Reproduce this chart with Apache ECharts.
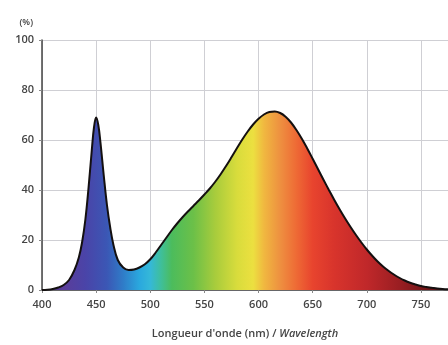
<!DOCTYPE html>
<html>
<head>
<meta charset="utf-8">
<script src="https://cdn.jsdelivr.net/npm/echarts@6/dist/echarts.min.js"></script>
<style>
  html, body { margin: 0; padding: 0; background: #fff; }
  #spd { width: 448px; height: 345px; }
</style>
</head>
<body>
<div id="spd"></div>
<script>
// spectre relatif (%)
var wavelength = [400, 405, 410, 415, 420, 425, 430, 434, 437, 440, 443, 446, 448, 450, 452, 454, 457, 460, 463, 466, 470, 475, 480, 485, 490, 495, 500, 505, 510, 515, 520, 525, 530, 535, 540, 545, 550, 555, 560, 565, 570, 575, 580, 585, 590, 595, 600, 605, 610, 615, 620, 625, 630, 635, 640, 645, 650, 655, 660, 665, 670, 675, 680, 685, 690, 695, 700, 705, 710, 715, 720, 725, 730, 735, 740, 745, 750, 755, 760, 765, 770, 775]
var intensity = [0, 0.1, 0.4, 1, 2, 4, 8, 13, 19, 28, 41, 56, 65, 69, 66, 59, 46, 34, 25, 18, 12, 9, 8, 8.2, 9, 10.3, 12.3, 15, 18, 21, 24, 26.7, 29.2, 31.5, 33.7, 35.9, 38.2, 40.6, 43.3, 46.3, 49.6, 53.1, 56.7, 60.2, 63.4, 66.2, 68.5, 70.2, 71.2, 71.4, 70.8, 69.3, 67, 64, 60.5, 56.6, 52.5, 48.3, 44.1, 40, 36, 32.2, 28.6, 25.2, 22, 19, 16.2, 13.7, 11.4, 9.4, 7.7, 6.2, 4.9, 3.8, 2.9, 2.2, 1.6, 1.2, 0.9, 0.6, 0.4, 0.3]
var xTicks = [400, 450, 500, 550, 600, 650, 700, 750]
var yTicks = [0, 20, 40, 60, 80, 100]

// couleurs du spectre visible
var spectrumNm = [400, 420, 440, 460, 475, 490, 500, 510, 520, 540, 560, 580, 595, 605, 620, 635, 650, 670, 700, 730, 760, 775]
var spectrumColor = ['#3a2a70', '#5a3d9a', '#4a44a8', '#3b57b5', '#2f7cc8', '#2aa8de', '#35b8d8', '#3fbf9a', '#4cbc5c', '#6cc048', '#a8cc3c', '#d8dc3c', '#ece040', '#f0b840', '#ee9040', '#ee6a35', '#e8442e', '#d8342c', '#c0282a', '#9a1e22', '#6a1416', '#4a1010']

var xMin = 400, xMax = 775

var stops = spectrumNm.map(function (nm, i) {
    return { offset: (nm - xMin) / (xMax - xMin), color: spectrumColor[i] }
})

var data = wavelength.map(function (w, i) { return [w, intensity[i]] })

var mychart = echarts.init(document.getElementById('spd'))
mychart.setOption({
    animation: false,
    grid: { left: 42, right: 0, top: 40, bottom: 55 },
    xAxis: {
        type: 'value',
        min: xMin,
        max: xMax,
        interval: 50,
        name: '{a|Longueur d\'onde (nm) / }{b|Wavelength}',
        nameLocation: 'middle',
        nameGap: 38,
        nameTextStyle: {
            rich: {
                a: { fontFamily: 'Open Sans', fontSize: 11, fontWeight: 600, color: '#444' },
                b: { fontFamily: 'Open Sans', fontSize: 11, fontStyle: 'italic', fontWeight: 600, color: '#444' }
            }
        },
        axisLine: { show: true, lineStyle: { color: '#444', width: 1.5 } },
        axisTick: { show: true, length: 3, lineStyle: { color: '#888' } },
        axisLabel: {
            showMaxLabel: false,
            margin: 9,
            fontFamily: 'Open Sans',
            fontSize: 11,
            fontWeight: 600,
            color: '#444',
            formatter: function (v) { return xTicks.indexOf(v) >= 0 ? String(v) : '' }
        },
        splitLine: { show: true, lineStyle: { color: '#cfcfd4', width: 1 } }
    },
    yAxis: {
        type: 'value',
        min: 0,
        max: 100,
        interval: 20,
        name: '(%)',
        nameLocation: 'end',
        nameGap: 13,
        nameTextStyle: { fontFamily: 'Open Sans', fontSize: 9, fontWeight: 600, color: '#444', align: 'right', padding: [0, 9, 0, 0] },
        axisLine: { show: true, lineStyle: { color: '#444', width: 1.5 } },
        axisTick: { show: true, length: 3, lineStyle: { color: '#888' } },
        axisLabel: {
            margin: 8,
            fontFamily: 'Open Sans',
            fontSize: 11,
            fontWeight: 600,
            color: '#444',
            formatter: function (v) { return yTicks.indexOf(v) >= 0 ? String(v) : '' }
        },
        splitLine: { show: true, lineStyle: { color: '#cfcfd4', width: 1 } }
    },
    series: [{
        type: 'line',
        data: data,
        smooth: 0.4,
        showSymbol: false,
        lineStyle: { color: '#141010', width: 2 },
        areaStyle: {
            opacity: 1,
            color: new echarts.graphic.LinearGradient(0, 0, 1, 0, stops)
        }
    }]
})
</script>
</body>
</html>
